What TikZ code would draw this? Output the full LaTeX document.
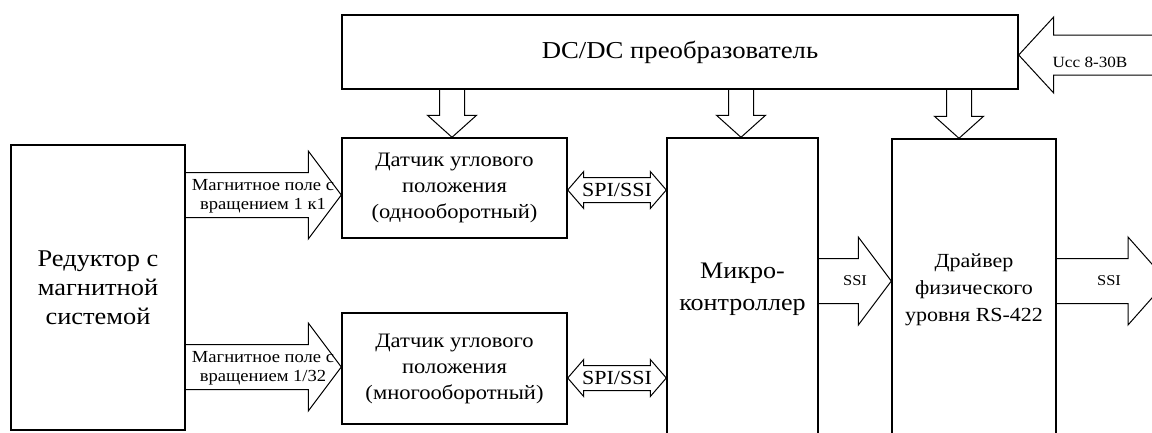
\documentclass[tikz,border=0pt]{standalone}
\usepackage{fontspec}
\setmainfont{Liberation Serif}[FakeStretch=1.1]
\usetikzlibrary{calc,positioning}

\begin{document}
\begin{tikzpicture}[x=1pt, y=-1pt,
    box/.style = {draw, line width=1.4pt, align=center, inner sep=0pt}, % blocks
    fat/.style = {draw, line width=1pt, line join=miter},
    lbl/.style = {align=center, inner sep=0pt},
    blk/.style n args = {3}{to path = {% one-headed block arrow: shaft, head, head length
        ($(\tikztotarget)!#3pt!(\tikztostart)$) coordinate (hb)
        ($(\tikztostart)!#1pt!90:(\tikztotarget)$) -- ($(hb)!#1pt!90:(\tikztotarget)$)
        -- ($(hb)!#2pt!90:(\tikztotarget)$) -- (\tikztotarget)
        -- ($(hb)!#2pt!-90:(\tikztotarget)$) -- ($(hb)!#1pt!-90:(\tikztotarget)$)
        -- ($(\tikztostart)!#1pt!-90:(\tikztotarget)$)}},
    dblk/.style n args = {3}{to path = {% two-headed block arrow
        ($(\tikztostart)!#3pt!(\tikztotarget)$) coordinate (ha)
        ($(\tikztotarget)!#3pt!(\tikztostart)$) coordinate (hb)
        (\tikztostart) -- ($(ha)!#2pt!90:(\tikztotarget)$) -- ($(ha)!#1pt!90:(\tikztotarget)$)
        -- ($(hb)!#1pt!90:(\tikztotarget)$) -- ($(hb)!#2pt!90:(\tikztotarget)$)
        -- (\tikztotarget) -- ($(hb)!#2pt!-90:(\tikztotarget)$)
        -- ($(hb)!#1pt!-90:(\tikztotarget)$) -- ($(ha)!#1pt!-90:(\tikztotarget)$)
        -- ($(ha)!#2pt!-90:(\tikztotarget)$) -- cycle}},
  ]
  \clip (0,0) rectangle (1152,432);

  % blocks
  \node[box, minimum width=174, minimum height=285,
    font=\fontsize{24}{29}\selectfont] (red) at (98,287.5)
    {Редуктор с\\магнитной\\системой};
  \node[box, minimum width=676, minimum height=74,
    font=\fontsize{24.3}{26}\selectfont] (dcdc) at (680,52)
    {DC/DC преобразователь};
  \node[box, minimum width=225, minimum height=100,
    font=\fontsize{20.5}{26}\selectfont] (sen1) at (454.5,188)
    {Датчик углового\\положения\\(однооборотный)};
  \node[box, minimum width=225, minimum height=111,
    font=\fontsize{20.5}{26}\selectfont] (sen2) at (454.5,368.5)
    {Датчик углового\\положения\\(многооборотный)};
  \node[box, minimum width=151, minimum height=302,
    font=\fontsize{23.7}{32}\selectfont] (mcu) at (742.5,289)
    {Микро-\\контроллер};
  \node[box, minimum width=164, minimum height=302,
    font=\fontsize{20}{27}\selectfont] (drv) at (974,290)
    {Драйвер\\физического\\уровня RS-422};

  \coordinate (ucc) at (1165,55);
  \coordinate (out) at (1167,281);

  % block arrows
  \foreach \n/\y in {sen1/195, sen2/367}
    \draw[fat, blk={22.5}{44}{33}] (red.east |- 0,\y) to (\n.west |- 0,\y);
  \foreach \n/\y in {sen1/190, sen2/378}
    \draw[fat, dblk={12.5}{18.5}{16}] (\n.east |- 0,\y) to (mcu.west |- 0,\y);
  \foreach \n/\x in {sen1/452, mcu/741, drv/959}
    \draw[fat, blk={12.5}{24.5}{22}] (dcdc.south -| \x,0) to (\n.north -| \x,0);
  \draw[fat, blk={22.5}{44}{33}] (mcu.east |- out) to (drv.west |- out);
  \draw[fat, blk={22.5}{44}{39}] (drv.east |- out) to (out);
  \draw[fat, blk={20}{38}{35}] (ucc) to (dcdc.east |- ucc);

  % labels
  \node[lbl, font=\fontsize{16.9}{19}\selectfont] (mag1) at (263,196)
    {Магнитное поле с\\вращением 1 к1};
  \node[lbl, font=\fontsize{16.9}{19}\selectfont] (mag2) at (263,368)
    {Магнитное поле с\\вращением 1/32};
  \node[lbl, font=\fontsize{20}{24}\selectfont] (spi1) at (617,190) {SPI/SSI};
  \node[lbl, font=\fontsize{20}{24}\selectfont] (spi2) at (617,378) {SPI/SSI};
  \node[lbl, font=\fontsize{15}{18}\selectfont] (ssi1) at (855,281) {SSI};
  \node[lbl, font=\fontsize{15}{18}\selectfont] (ssi2) at (1109,281) {SSI};
  \node[lbl, font=\fontsize{15.6}{18}\selectfont] (vin) at (1090,62) {Ucc 8-30В};
\end{tikzpicture}
\end{document}
